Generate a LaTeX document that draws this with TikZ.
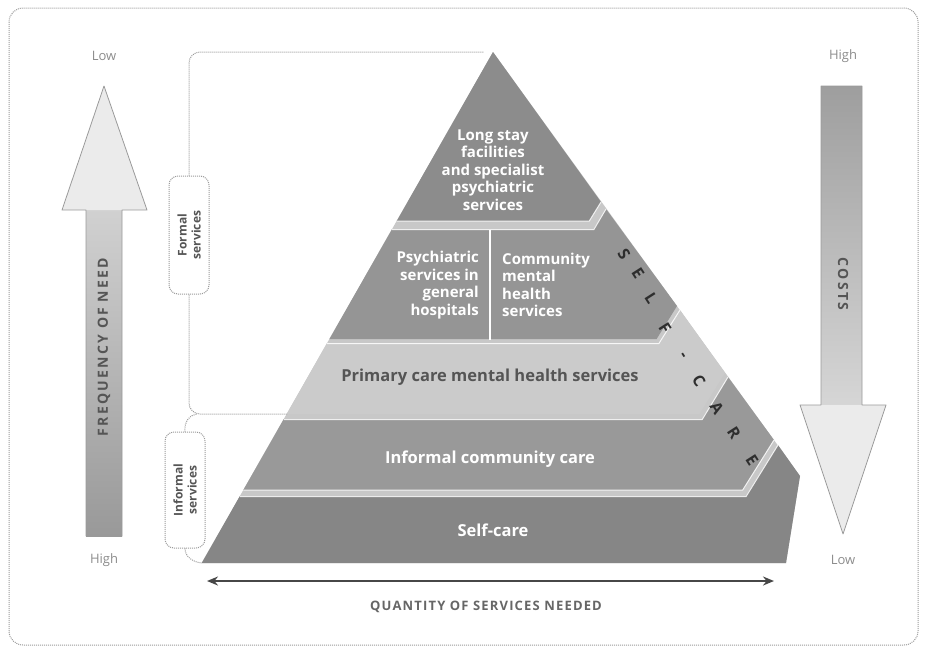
\documentclass[tikz,border=0pt]{standalone}
\usepackage{fontspec}
\setmainfont{Open Sans}
\usetikzlibrary{arrows.meta,calc}

\definecolor{layA}{HTML}{8C8C8C}
\definecolor{layB}{HTML}{959595}
\definecolor{layC}{HTML}{CBCBCB}
\definecolor{layD}{HTML}{999999}
\definecolor{layE}{HTML}{868686}
\definecolor{gapc}{HTML}{C8C8C8}
\definecolor{linec}{HTML}{9A9A9A}
\definecolor{darktext}{HTML}{555555}
\definecolor{softtext}{HTML}{8C8C8C}

\tikzset{
  dotline/.style={draw=linec, densely dotted, line width=1pt},
  svcbox/.style={draw=linec, densely dotted, line width=1pt, rounded corners=9pt,
    fill=white, minimum height=40pt, align=center, inner sep=2pt,
    font=\fontsize{12}{14}\selectfont\bfseries, text=darktext},
  laytext/.style={text=white, font=\fontsize{15}{17.5}\selectfont\bfseries, inner sep=0pt},
  bandtext/.style={laytext, font=\fontsize{16.5}{17.5}\selectfont\bfseries},
  endlabel/.style={text=softtext, font=\fontsize{13}{13}\selectfont},
  axislabel/.style={text=darktext,
    font=\fontsize{14}{14}\selectfont\bfseries\addfontfeature{LetterSpace=16}},
  sideletter/.style={text=black!82, font=\fontsize{16}{16}\selectfont\bfseries,
    rotate=-57.5, inner sep=0pt},
  arrowline/.style={draw=linec, line width=0.8pt, line join=round},
  qarrow/.style={draw=black!72, line width=2.2pt,
    {Stealth[length=11pt,width=9pt]}-{Stealth[length=11pt,width=9pt]}}
}

\begin{document}
\begin{tikzpicture}[x=1pt,y=-1pt]
\useasboundingbox (0,0) rectangle (926,649);

% outer frame
\draw[dotline, rounded corners=14pt] (9,8) rectangle (918,645);

% ---------- left arrow: frequency of need ----------
\shade[top color=black!18, bottom color=black!40]
  (86,208) rectangle (122,536);
\fill[black!8] (104,86) -- (147,210) -- (62,210) -- cycle;
\draw[arrowline] (104,86) -- (147,210) -- (122,210) -- (122,536)
  -- (86,536) -- (86,210) -- (62,210) -- cycle;
\node[axislabel, rotate=90] (freq) at (104,347) {FREQUENCY OF NEED};
\node[endlabel] (lowL) at (104,56) {Low};
\node[endlabel] (highL) at (104,560) {High};

% ---------- right arrow: costs ----------
\shade[top color=black!38, bottom color=black!16]
  (821,86) rectangle (862,407);
\fill[black!8] (800,405) -- (886,405) -- (843,534) -- cycle;
\draw[arrowline] (821,86) -- (862,86) -- (862,405) -- (886,405)
  -- (843,534) -- (800,405) -- (821,405) -- cycle;
\node[axislabel, rotate=-90] (costs) at (843,284) {COSTS};
\node[endlabel] (highR) at (843,56) {High};
\node[endlabel] (lowR) at (843,560) {Low};

% ---------- pyramid ----------
% silhouette; it shows through as the gaps between the tiers
\fill[gapc] (493,52) -- (800,476) -- (786,563) -- (201.7,563) -- cycle;

% tier 1: long stay facilities
\fill[layA] (493,52) -- (396.7,221) -- (589.3,221) -- (601,202) -- cycle;
% tier 2: hospital and community services
\fill[layB] (392.1,229) -- (329.4,339) -- (656.6,339) -- (677,306)
  -- (606,209) -- (593.9,229) -- cycle;
% tier 3: primary care
\fill[layC] (327.1,343) -- (286.7,414) -- (699.3,414) -- (725,373)
  -- (680,310) -- (658.9,343) -- cycle;
% tier 4: informal community care
\fill[layD] (283.8,419) -- (243.3,490) -- (742.7,490) -- (774,440)
  -- (728,377) -- (702.2,419) -- cycle;
% tier 5: self-care, with its dark side face
\fill[layE] (239.9,496) -- (201.7,563) -- (786,563) -- (800,476)
  -- (778,445) -- (746.1,496) -- cycle;

% light edges along the tier tops and bevels
\begin{scope}[draw=white, line width=1pt, opacity=0.85]
  \draw (392.1,229.5) -- (593.9,229.5) -- (606,209);
  \draw (327.1,343.5) -- (658.9,343.5) -- (680,310);
  \draw (283.8,419.5) -- (702.2,419.5) -- (728,377);
  \draw (243.3,490) -- (742.7,490) -- (774,440);
  \draw (239.9,496.5) -- (746.1,496.5) -- (778,445);
  \draw (396.7,221) -- (589.3,221) -- (601,202);
\end{scope}
\draw[white, line width=1.4pt] (490,230) -- (490,340);

% tier labels
\node[laytext, align=center] (longstay) at (493,170)
  {Long stay\\facilities\\and specialist\\psychiatric\\services};
\node[laytext, align=right, anchor=east] (psych) at (479,285)
  {Psychiatric\\services in\\general\\hospitals};
\node[laytext, align=left, anchor=west] (cmhs) at (502,285)
  {Community\\mental\\health\\services};
\node[bandtext, text=darktext] (primary) at (490,377)
  {Primary care mental health services};
\node[bandtext] (informalcare) at (490,459) {Informal community care};
\node[bandtext] (selfcare) at (493,530) {Self-care};

% lettering along the side face
\node[sideletter] (s1) at (624,254) {S};
\node[sideletter] (s2) at (638,273) {E};
\node[sideletter] (s3) at (651,298) {L};
\node[sideletter] (s4) at (665,328) {F};
\node[sideletter] (s5) at (682,356) {-};
\node[sideletter] (s6) at (699,381) {C};
\node[sideletter] (s7) at (717,408) {A};
\node[sideletter] (s8) at (734,433) {R};
\node[sideletter] (s9) at (752,460) {E};

% ---------- service brackets ----------
\coordinate (apexL) at (484,52);
\coordinate (fbot) at (287,414);
\coordinate (fjoin) at (197,414);
\coordinate (baseL) at (201.7,563);

\node[svcbox, rotate=90, minimum width=118pt] (formal) at (189,235)
  {Formal\\services};
\node[svcbox, rotate=90, minimum width=116pt] (informal) at (185,490)
  {Informal\\services};

\draw[dotline, rounded corners=11pt] (formal.east) -- (189,52) -- (apexL);
\draw[dotline, rounded corners=11pt] (formal.west) -- (189,414) -- (fbot);
\draw[dotline] (informal.east) .. controls (184,421) and (190,415) .. (fjoin);
\draw[dotline] (informal.west) .. controls (185,557) and (193,562) .. (baseL);

% ---------- quantity axis ----------
\coordinate (qL) at (207,581);
\coordinate (qR) at (774,581);
\draw[qarrow] (qL) -- (qR);
\node[axislabel, text=black!60,
  font=\fontsize{13}{13}\selectfont\bfseries\addfontfeature{LetterSpace=9}] (qty) at (486,607)
  {QUANTITY OF SERVICES NEEDED};

\end{tikzpicture}
\end{document}
